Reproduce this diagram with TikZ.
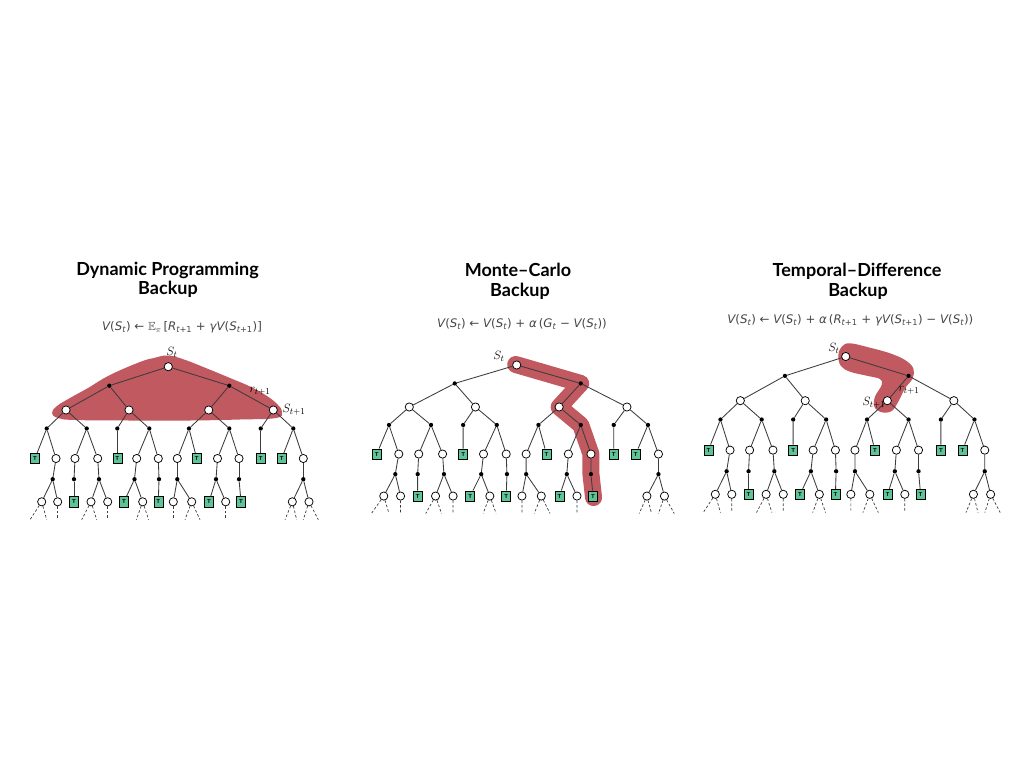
\documentclass[tikz,border=0pt]{standalone}
\usepackage{amssymb}
\usepackage{fontspec}
\newfontfamily\titlefont{Lato}
\newfontfamily\eqfont{DejaVu Sans}
\usetikzlibrary{calc}
\pgfdeclarelayer{background}
\pgfsetlayers{background,main}
\definecolor{blob}{RGB}{193,89,96}
\definecolor{tgreen}{RGB}{94,196,152}
\definecolor{edgec}{RGB}{60,60,60}
\definecolor{eqc}{RGB}{70,70,70}
\newcommand\It[1]{{\itshape #1}}
\newcommand\St{\It{S}\textsubscript{\It{t}}}
\newcommand\Stp{\It{S}\textsubscript{\It{t}+1}}
\newcommand\Rtp{\It{R}\textsubscript{\It{t}+1}}
\newcommand\Vf{\It{V}}
\tikzset{
  st/.style={circle, draw=black, fill=white, line width=0.75pt, minimum size=8.2pt, inner sep=0pt},
  act/.style={circle, fill=black, minimum size=4.3pt, inner sep=0pt},
  term/.style={rectangle, draw=black, fill=tgreen, line width=0.6pt, minimum width=9pt, minimum height=10.5pt, inner sep=0pt, font=\sffamily\bfseries\fontsize{5.8}{6}\selectfont},
  edge/.style={draw=edgec, line width=0.85pt},
  dsh/.style={draw=edgec, line width=0.7pt, dash pattern=on 2.6pt off 2pt},
  ttl/.style={font=\titlefont\bfseries\fontsize{18}{20}\selectfont, anchor=base, inner sep=0pt},
  eqn/.style={font=\eqfont\fontsize{11.8}{13}\selectfont, text=eqc, inner sep=0pt},
  lab/.style={font=\fontsize{13}{15}\selectfont, inner sep=0pt},
  band/.style={draw=blob, line cap=round, line join=round},
}
\newcommand\drawtree[1]{%
  \node[st] (#1r) at (0,0) {};
  \node[act] (#1a1) at (-59,19) {};
  \node[act] (#1a2) at (61,19) {};
  \foreach \n/\x in {b1/-102.3,b2/-39.3,b3/40.4,b4/105}
    \node[st] (#1\n) at (\x,43.3) {};
  \foreach \n/\x in {c1/-121.6,c2/-81.6,c3/-51,c4/-19,c5/20.7,c6/61,c7/92.4,c8/125}
    \node[act] (#1\n) at (\x,61.8) {};
  \foreach \n/\x in {d1/-133.3,d5/-51,d9/28.4,d12/92.4,d13/113.4}
    \node[term] (#1\n) at (\x,91.8) {T};
  \foreach \n/\x in {d2/-112.3,d3/-93.3,d4/-70.6,d6/-31.6,d7/-10,d8/9,d10/49.2,d11/70.7,d14/135}
    \node[st] (#1\n) at (\x,91.8) {};
  \foreach \n/\x in {e2/-115.6,e3/-94.3,e4/-69.3,e6/-33.8,e7/-9.3,e8/9,e10/47.7,e11/70.7,e14/135}
    \node[act] (#1\n) at (\x,112.5) {};
  \foreach \n/\x in {f3/-94.3,f6/-44.3,f8/-10,f11/40.7,f13/72.7}
    \node[term] (#1\n) at (\x,135.1) {T};
  \foreach \n/\x in {f1/-126.6,f2/-110.6,f4/-77.3,f5/-60.6,f7/-25.6,f9/5,f10/23.4,f12/57.4,f14/124,f15/140.7}
    \node[st] (#1\n) at (\x,135.1) {};
  \foreach \p/\c in {r/a1,r/a2,a1/b1,a1/b2,a2/b3,a2/b4,b1/c1,b1/c2,b2/c3,b2/c4,b3/c5,b3/c6,b4/c7,b4/c8,
      c1/d1,c1/d2,c2/d3,c2/d4,c3/d5,c4/d6,c4/d7,c5/d8,c5/d9,c6/d10,c6/d11,c7/d12,c8/d13,c8/d14,
      d2/e2,d3/e3,d4/e4,d6/e6,d7/e7,d8/e8,d10/e10,d11/e11,d14/e14,
      e2/f1,e2/f2,e3/f3,e4/f4,e4/f5,e6/f6,e6/f7,e7/f8,e8/f9,e8/f10,e10/f11,e10/f12,e11/f13,e14/f14,e14/f15}
    \draw[edge] (#1\p) -- (#1\c);
  \foreach \f/\x/\n in {f1/-138.3/g1,f1/-121.6/g2,f2/-110.6/g3,f4/-86.6/g4,f4/-71.6/g5,f5/-60.6/g6,
      f7/-32/g7,f7/-19.6/g8,f9/5/g9,f10/16.7/g10,f10/31.7/g11,f12/57.4/g12,
      f14/116.7/g13,f14/128.4/g14,f15/135/g15,f15/150/g16}
    {\coordinate (#1\n) at (\x,153); \draw[dsh] (#1\f) -- (#1\n);}
}
\begin{document}
\begin{tikzpicture}[x=1pt,y=-1pt]
\useasboundingbox (0,0) rectangle (1024,768);
\begin{pgfonlayer}{background}
  \fill[white] (0,0) rectangle (1024,768);
\end{pgfonlayer}

% titles
\node[ttl] (t1a) at (167.5,275) {Dynamic Programming};
\node[ttl] (t1b) at (168,294) {Backup};
\node[ttl] (t2a) at (518,276) {Monte–Carlo};
\node[ttl] (t2b) at (520,296) {Backup};
\node[ttl] (t3a) at (857,276) {Temporal–Difference};
\node[ttl] (t3b) at (858,296) {Backup};

% equations
\node[eqn] (eq1) at (182,327.7) {\Vf(\St) ← $\mathbb{E}_{\pi}$\,[\Rtp{} + \It{γ}\Vf(\Stp)]};
\node[eqn] (eq2) at (522,324) {\Vf(\St) ← \Vf(\St) + \It{α}\,(\It{G}\textsubscript{\It{t}} − \Vf(\St))};
\node[eqn] (eq3) at (850.3,320.7) {\Vf(\St) ← \Vf(\St) + \It{α}\,(\Rtp{} + \It{γ}\Vf(\Stp) − \Vf(\St))};

% trees
\begin{scope}[shift={(168.3,366.7)}]
  \drawtree{A}
\end{scope}
\begin{scope}[shift={(516.7,365)}, xscale=1.05, yscale=0.97]
  \drawtree{B}
\end{scope}
\begin{scope}[shift={(845.7,356.5)}, xscale=1.03, yscale=1.02]
  \drawtree{C}
\end{scope}

% highlighted backups
\begin{pgfonlayer}{background}
  \fill[blob] plot[smooth cycle, tension=0.7] coordinates {
    (168,355.5) (184,359.5) (207,368.5) (230,378) (250,386.5) (267,396) (278,405) (282,412)
    (276,418) (240,419.5) (190,420.5) (130,420.5) (75,420) (58,418) (52,413) (57,406)
    (70,398) (88,388) (110,375) (140,362) (154,358)};
  \draw[band, line width=17pt] ($(Br.center)+(-1,-0.5)$) -- (Ba2.center) -- (Bb3.center) -- (Bc6.center)
    -- (Bd11.center) -- (Be11.center) -- ($(Bf13.center)+(0.5,1.5)$);
  \fill[blob] plot[smooth cycle, tension=0.6] coordinates {
    (838.3,355) (841.7,346.7) (850,343.3) (870,347.7) (890,353.3) (905,360) (913.3,368.3)
    (912.7,378.3) (905,388.3) (898.3,401.7) (891.7,411) (881.7,412.3) (874.3,406.7)
    (875,396.7) (881.7,385) (880,379) (866.7,375.7) (850,371.7) (840.7,365.7)};
\end{pgfonlayer}

% labels
\node[lab] (l1s) at (172,352) {$S_t$};
\node[lab] (l1r) at (260,391) {$r_{t+1}$};
\node[lab] (l1s1) at (294,410) {$S_{t+1}$};
\node[lab] (l2s) at (499,356) {$S_t$};
\node[lab] (l3s) at (834,348) {$S_t$};
\node[lab] (l3r) at (909,390) {$r_{t+1}$};
\node[lab] (l3s1) at (874,403) {$S_{t+1}$};
\end{tikzpicture}
\end{document}
